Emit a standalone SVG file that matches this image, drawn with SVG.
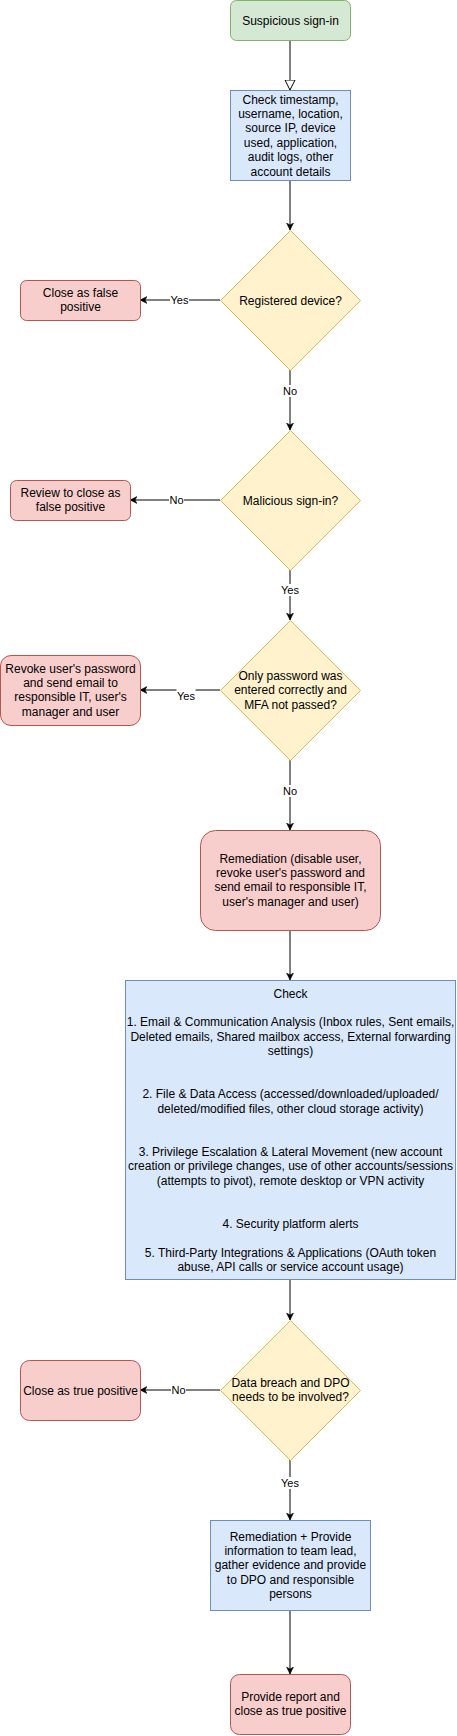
<svg xmlns="http://www.w3.org/2000/svg" width="457" height="1736" viewBox="0 0 457 1736">
<defs>
<style>
text{font-family:"Liberation Sans",Arial,sans-serif;font-size:12px;fill:#000;text-anchor:middle}
.lbl{font-size:11px}
.green{fill:#d5e8d4;stroke:#82b366;stroke-width:1}
.blue{fill:#dae8fc;stroke:#6c8ebf;stroke-width:1}
.yellow{fill:#fff2cc;stroke:#d6b656;stroke-width:1}
.red{fill:#f8cecc;stroke:#b85450;stroke-width:1}
.edge{stroke:#000;stroke-width:1;fill:none;marker-end:url(#arr)}
.lblbg{fill:#fff}
</style>
<marker id="arr" markerUnits="userSpaceOnUse" markerWidth="8" markerHeight="8" refX="7" refY="3.5" orient="auto">
<path d="M0,0 L7,3.5 L0,7 L2,3.5 z" fill="#000" stroke="#000" stroke-width="0.5"/>
</marker>
<marker id="open" markerUnits="userSpaceOnUse" markerWidth="12" markerHeight="12" refX="10.5" refY="5.5" orient="auto">
<path d="M0.5,0.5 L10.5,5.5 L0.5,10.5 z" fill="#fff" stroke="#000" stroke-width="1"/>
</marker>
</defs>
<rect width="457" height="1736" fill="#fff"/>
<g id="connectors">
<line x1="290" y1="40" x2="290" y2="90" stroke="#000" stroke-width="1" marker-end="url(#open)"/>
<line class="edge" x1="290" y1="180" x2="290" y2="230"/>
<line class="edge" x1="220" y1="300" x2="140" y2="300"/>
<line class="edge" x1="290" y1="370" x2="290" y2="430"/>
<line class="edge" x1="220" y1="500" x2="130" y2="500"/>
<line class="edge" x1="290" y1="570" x2="290" y2="620"/>
<line class="edge" x1="220" y1="690" x2="140" y2="690"/>
<line class="edge" x1="290" y1="760" x2="290" y2="830"/>
<line class="edge" x1="290" y1="930" x2="290" y2="980"/>
<line class="edge" x1="290" y1="1280" x2="290" y2="1320"/>
<line class="edge" x1="220" y1="1390" x2="140" y2="1390"/>
<line class="edge" x1="290" y1="1460" x2="290" y2="1520"/>
<line class="edge" x1="290" y1="1610" x2="290" y2="1674"/>
<rect class="lblbg" x="170" y="294" width="19" height="12"/>
<text class="lbl" x="179.5" y="304">Yes</text>
<rect class="lblbg" x="282" y="385" width="16" height="12"/>
<text class="lbl" x="290" y="395">No</text>
<rect class="lblbg" x="169" y="494" width="15" height="12"/>
<text class="lbl" x="176.5" y="504">No</text>
<rect class="lblbg" x="280" y="584" width="20" height="12"/>
<text class="lbl" x="290" y="594">Yes</text>
<rect class="lblbg" x="176.5" y="689" width="19" height="13"/>
<text class="lbl" x="186" y="700">Yes</text>
<rect class="lblbg" x="282" y="785" width="16" height="12"/>
<text class="lbl" x="290" y="795">No</text>
<rect class="lblbg" x="171" y="1384" width="15" height="12"/>
<text class="lbl" x="178.5" y="1394">No</text>
<rect class="lblbg" x="280" y="1477" width="20" height="12"/>
<text class="lbl" x="290" y="1487">Yes</text>
</g>
<g id="start">
<rect class="green" x="230.5" y="0.5" width="120" height="40" rx="6"/>
<text x="290.5" y="24.5">Suspicious sign-in</text>
</g>
<g id="check-details">
<rect class="blue" x="230.5" y="90.5" width="120" height="90"/>
<text x="290.5" y="103.5">Check timestamp,</text>
<text x="290.5" y="117.9">username, location,</text>
<text x="290.5" y="132.3">source IP, device</text>
<text x="290.5" y="146.7">used, application,</text>
<text x="290.5" y="161.1">audit logs, other</text>
<text x="290.5" y="175.5">account details</text>
</g>
<g id="registered-device">
<polygon class="yellow" points="290.5,230.5 360.5,300.5 290.5,370.5 220.5,300.5"/>
<text x="290.5" y="304.5">Registered device?</text>
</g>
<g id="close-false-positive">
<rect class="red" x="20.5" y="280.5" width="120" height="40" rx="6"/>
<text x="80.5" y="297">Close as false</text>
<text x="80.5" y="311.4">positive</text>
</g>
<g id="malicious-sign-in">
<polygon class="yellow" points="290.5,430.5 360.5,500.5 290.5,570.5 220.5,500.5"/>
<text x="290.5" y="504.5">Malicious sign-in?</text>
</g>
<g id="review-close">
<rect class="red" x="10.5" y="480.5" width="120" height="40" rx="6"/>
<text x="70.5" y="497">Review to close as</text>
<text x="70.5" y="511.4">false positive</text>
</g>
<g id="only-password">
<polygon class="yellow" points="290.5,620.5 360.5,690.5 290.5,760.5 220.5,690.5"/>
<text x="290.5" y="680">Only password was</text>
<text x="290.5" y="694.4">entered correctly and</text>
<text x="290.5" y="708.8">MFA not passed?</text>
</g>
<g id="revoke-password">
<rect class="red" x="0.5" y="655.5" width="140" height="70" rx="10.5"/>
<text x="70.5" y="672.6">Revoke user's password</text>
<text x="70.5" y="687">and send email to</text>
<text x="70.5" y="701.4">responsible IT, user's</text>
<text x="70.5" y="715.8">manager and user</text>
</g>
<g id="remediation">
<rect class="red" x="200.5" y="830.5" width="180" height="100" rx="15"/>
<text x="290.5" y="862.6">Remediation (disable user,</text>
<text x="290.5" y="877">revoke user's password and</text>
<text x="290.5" y="891.4">send email to responsible IT,</text>
<text x="290.5" y="905.8">user's manager and user)</text>
</g>
<g id="check-activity">
<rect class="blue" x="125.5" y="980.5" width="330" height="299"/>
<text x="290.5" y="997.6">Check</text>
<text x="290.5" y="1026.4">1. Email &amp; Communication Analysis (Inbox rules, Sent emails,</text>
<text x="290.5" y="1040.8">Deleted emails, Shared mailbox access, External forwarding</text>
<text x="290.5" y="1055.2">settings)</text>
<text x="290.5" y="1098.4">2. File &amp; Data Access (accessed/downloaded/uploaded/</text>
<text x="290.5" y="1112.8">deleted/modified files, other cloud storage activity)</text>
<text x="290.5" y="1156">3. Privilege Escalation &amp; Lateral Movement (new account</text>
<text x="290.5" y="1170.4">creation or privilege changes, use of other accounts/sessions</text>
<text x="290.5" y="1184.8">(attempts to pivot), remote desktop or VPN activity</text>
<text x="290.5" y="1228">4. Security platform alerts</text>
<text x="290.5" y="1256.8">5. Third-Party Integrations &amp; Applications (OAuth token</text>
<text x="290.5" y="1271.2">abuse, API calls or service account usage)</text>
</g>
<g id="data-breach">
<polygon class="yellow" points="290.5,1320.5 360.5,1390.5 290.5,1460.5 220.5,1390.5"/>
<text x="290.5" y="1386.8">Data breach and DPO</text>
<text x="290.5" y="1401.2">needs to be involved?</text>
</g>
<g id="close-true-positive">
<rect class="red" x="20.5" y="1360.5" width="120" height="60" rx="9"/>
<text x="80.5" y="1394.5">Close as true positive</text>
</g>
<g id="remediation-provide">
<rect class="blue" x="210.5" y="1520.5" width="160" height="90"/>
<text x="290.5" y="1540.6">Remediation + Provide</text>
<text x="290.5" y="1555">information to team lead,</text>
<text x="290.5" y="1569.4">gather evidence and provide</text>
<text x="290.5" y="1583.8">to DPO and responsible</text>
<text x="290.5" y="1598.2">persons</text>
</g>
<g id="provide-report">
<rect class="red" x="230.5" y="1674.5" width="120" height="60" rx="9"/>
<text x="290.5" y="1701">Provide report and</text>
<text x="290.5" y="1715.4">close as true positive</text>
</g>
</svg>
